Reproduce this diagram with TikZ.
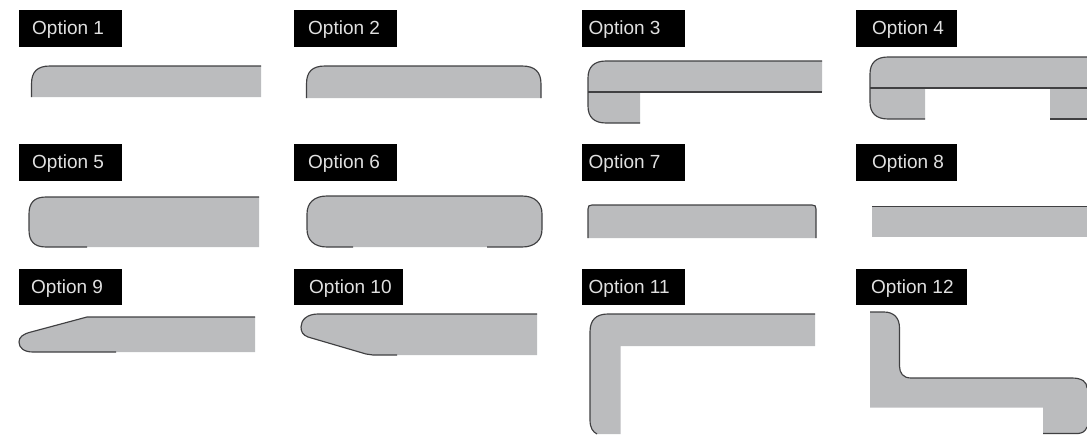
\documentclass[tikz,border=0pt]{standalone}
\usepackage{fontspec}
\setmainfont{Liberation Sans}
\definecolor{slab}{HTML}{BBBCBE}
\definecolor{edge}{HTML}{404042}
\definecolor{labeltext}{HTML}{E0E0E0}
\tikzset{
  optbox/.style={draw=none,inner sep=0pt,text=labeltext,font=\fontsize{19}{19}\selectfont,anchor=west},
  slabfill/.style={fill=slab,draw=none},
  outline/.style={draw=edge,line width=1.15pt,fill=none},
}
\newcommand{\optlabel}[7]{%
  \fill[black] (#2,#4) rectangle (#3,#5);
  \node[optbox] (#1) at (#6,{(#4+#5)/2+1.5}) {#7};
}
\begin{document}
\begin{tikzpicture}[x=1pt,y=-1pt]
\useasboundingbox (0,0) rectangle (1087,434);
% labels
\optlabel{o1}{19}{122}{10}{47}{32}{Option 1}
\optlabel{o2}{294}{397}{10}{47}{308}{Option 2}
\optlabel{o3}{582}{685}{10}{47}{588.5}{Option 3}
\optlabel{o4}{856}{957}{10}{47}{872}{Option 4}
\optlabel{o5}{19}{122}{144}{181}{32}{Option 5}
\optlabel{o6}{294}{397}{144}{181}{308}{Option 6}
\optlabel{o7}{582}{685}{144}{181}{588.5}{Option 7}
\optlabel{o8}{856}{957}{144}{181}{872}{Option 8}
\optlabel{o9}{19}{122}{269}{305}{31}{Option 9}
\optlabel{o10}{294}{403}{269}{305}{309}{Option 10}
\optlabel{o11}{582}{685}{269}{305}{588.5}{Option 11}
\optlabel{o12}{856}{967}{269}{305}{871}{Option 12}
% Option 1
\fill[slabfill] (31.5,97) -- (31.5,84) .. controls (31.5,72) and (37,66) .. (50,66) -- (261,66) -- (261,97) -- cycle;
\draw[outline] (31.5,97) -- (31.5,84) .. controls (31.5,72) and (37,66) .. (50,66) -- (261,66);
% Option 2
\fill[slabfill] (306.5,98) -- (306.5,84) .. controls (306.5,72) and (312,66) .. (325,66) -- (522,66) .. controls (535,66) and (541,72) .. (541,84) -- (541,98) -- cycle;
\draw[outline] (306.5,98) -- (306.5,84) .. controls (306.5,72) and (312,66) .. (325,66) -- (522,66) .. controls (535,66) and (541,72) .. (541,84) -- (541,98);
% Option 3
\fill[slabfill] (640,92) -- (822,92) -- (822,61) -- (606,61) .. controls (594,61) and (588,67) .. (588,78) -- (588,106) .. controls (588,117) and (594,123) .. (606,123) -- (640,123) -- cycle;
\draw[outline] (822,61) -- (606,61) .. controls (594,61) and (588,67) .. (588,78) -- (588,106) .. controls (588,117) and (594,123) .. (606,123) -- (640,123);
\draw[outline] (588,92) -- (822,92);
% Option 4
\fill[slabfill] (1087,57) -- (888,57) .. controls (876,57) and (870,63) .. (870,74) -- (870,102) .. controls (870,113) and (876,119) .. (888,119) -- (925,119) -- (925,88) -- (1050,88) -- (1050,119) -- (1087,119) -- cycle;
\draw[outline] (1087,57) -- (888,57) .. controls (876,57) and (870,63) .. (870,74) -- (870,102) .. controls (870,113) and (876,119) .. (888,119) -- (925,119);
\draw[outline] (870,88) -- (1087,88);
\draw[outline] (1050,119) -- (1087,119);
% Option 5
\fill[slabfill] (259,197) -- (46,197) .. controls (34,197) and (29,203) .. (29,214) -- (29,230) .. controls (29,241) and (34,247) .. (46,247) -- (259,247) -- cycle;
\draw[outline] (259,197) -- (46,197) .. controls (34,197) and (29,203) .. (29,214) -- (29,230) .. controls (29,241) and (34,247) .. (46,247) -- (87,247);
% Option 6
\fill[slabfill] (327,196) .. controls (314,196) and (307,203) .. (307,214) -- (307,229) .. controls (307,240) and (314,247) .. (327,247) -- (522,247) .. controls (535,247) and (542,240) .. (542,229) -- (542,214) .. controls (542,203) and (535,196) .. (522,196) -- cycle;
\draw[outline] (353,247) -- (327,247) .. controls (314,247) and (307,240) .. (307,229) -- (307,214) .. controls (307,203) and (314,196) .. (327,196) -- (522,196) .. controls (535,196) and (542,203) .. (542,214) -- (542,229) .. controls (542,240) and (535,247) .. (522,247) -- (487,247);
% Option 7
\fill[slabfill] (588,238) -- (588,209) .. controls (588,206) and (589,205) .. (592,205) -- (812,205) .. controls (815,205) and (816,206) .. (816,209) -- (816,238) -- cycle;
\draw[outline] (588,238) -- (588,209) .. controls (588,206) and (589,205) .. (592,205) -- (812,205) .. controls (815,205) and (816,206) .. (816,209) -- (816,238);
% Option 8
\fill[slabfill] (872,206) rectangle (1087,237);
\draw[outline,line width=.6pt] (872,206) -- (1087,206);
% Option 9
\fill[slabfill] (255,317) -- (87,317) -- (31,332) .. controls (23,334) and (19,337) .. (19,342) .. controls (19,348) and (24,352) .. (33,352) -- (255,352) -- cycle;
\draw[outline] (255,317) -- (87,317) -- (31,332) .. controls (23,334) and (19,337) .. (19,342) .. controls (19,348) and (24,352) .. (33,352) -- (116,352);
% Option 10
\fill[slabfill] (537,314) -- (318,314) .. controls (307,314) and (301,320) .. (301,327) .. controls (301,332) and (303,335) .. (308,337) -- (366,354) .. controls (369,355) and (370,355) .. (373,355) -- (537,355) -- cycle;
\draw[outline] (537,314) -- (318,314) .. controls (307,314) and (301,320) .. (301,327) .. controls (301,332) and (303,335) .. (308,337) -- (366,354) .. controls (369,355) and (370,355) .. (373,355) -- (397,355);
% Option 11
\fill[slabfill] (815,314) -- (608,314) .. controls (596,314) and (590,320) .. (590,332) -- (590,420) .. controls (590,428) and (593,432) .. (597,434) -- (620.5,434) -- (620.5,346) -- (815,346) -- cycle;
\draw[outline] (815,314) -- (608,314) .. controls (596,314) and (590,320) .. (590,332) -- (590,420) .. controls (590,428) and (593,432) .. (597,434);
% Option 12
\fill[slabfill] (870,312) -- (884,312) .. controls (894,312) and (899.5,318) .. (899.5,328) -- (899.5,366) .. controls (899.5,373) and (903,378) .. (911,378) -- (1072,378) .. controls (1082,378) and (1087,382) .. (1087,388) -- (1087,427) .. controls (1085,432) and (1082,433) .. (1078,433.5) -- (1043,433.5) -- (1043,407.5) -- (870,407.5) -- cycle;
\draw[outline] (870,312) -- (884,312) .. controls (894,312) and (899.5,318) .. (899.5,328) -- (899.5,366) .. controls (899.5,373) and (903,378) .. (911,378) -- (1072,378) .. controls (1082,378) and (1087,382) .. (1087,388);
\draw[outline] (1087,427) .. controls (1085,432) and (1082,433) .. (1078,433.5) -- (1043,433.5);
\end{tikzpicture}
\end{document}
